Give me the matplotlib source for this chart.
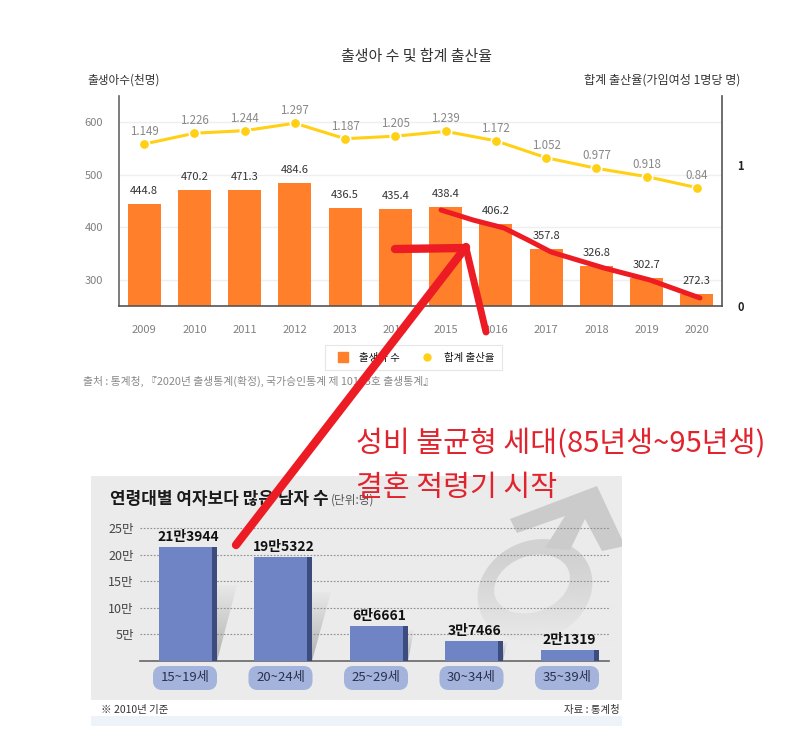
import numpy as np
import matplotlib
matplotlib.use("Agg")
import matplotlib.pyplot as plt
from matplotlib.patches import Polygon, Ellipse, FancyBboxPatch, Rectangle
from matplotlib.lines import Line2D

plt.rcParams['font.family'] = ['Noto Sans CJK KR', 'DejaVu Sans']

years = [2009, 2010, 2011, 2012, 2013, 2014, 2015, 2016, 2017, 2018, 2019, 2020]
births = [444.8, 470.2, 471.3, 484.6, 436.5, 435.4, 438.4, 406.2, 357.8, 326.8, 302.7, 272.3]
rates = [1.149, 1.226, 1.244, 1.297, 1.187, 1.205, 1.239, 1.172, 1.052, 0.977, 0.918, 0.84]
rate_labels = ['1.149', '1.226', '1.244', '1.297', '1.187', '1.205', '1.239', '1.172', '1.052', '0.977', '0.918', '0.84']
age_groups = ['15~19세', '20~24세', '25~29세', '30~34세', '35~39세']
excess_men = [213944, 195322, 66661, 37466, 21319]
excess_labels = ['21만3944', '19만5322', '6만6661', '3만7466', '2만1319']
man_ticks = [50000, 100000, 150000, 200000, 250000]
man_tick_labels = ['5만', '10만', '15만', '20만', '25만']

W, H = 787, 741
fig = plt.figure(figsize=(W / 100, H / 100), dpi=100, facecolor='white')


def axes_px(x0, y0, x1, y1, **kw):
    return fig.add_axes([x0 / W, 1 - y1 / H, (x1 - x0) / W, (y1 - y0) / H], **kw)


# Background layer in pixels
bg = axes_px(0, 0, W, H, zorder=0)
bg.set_xlim(0, W)
bg.set_ylim(H, 0)
bg.axis('off')
panel = '#ebebeb'
bg.add_patch(Rectangle((91, 476), 531, 224, fc=panel, ec='none'))
bg.add_patch(Rectangle((91, 716), 531, 10, fc='#eef3fa', ec='none'))

# Male symbol
clip = Rectangle((91, 476), 531, 224, transform=bg.transData)
sym = '#cbcbcb'
ring_o = bg.add_patch(Ellipse((535, 590), 118, 98, angle=-25, fc='#d2d2d2', ec='none', zorder=1))
ring_i = bg.add_patch(Ellipse((532, 584), 78, 56, angle=-20, fc=panel, ec='none', zorder=2))
head = bg.add_patch(Polygon([(510, 519), (597, 486), (625, 546), (602, 551), (585, 519), (570, 550),
                             (545, 548), (565, 516), (517, 533)], closed=True, fc=sym, ec='none', zorder=1))
head.set_clip_path(clip)
fade_rgba = np.zeros((64, 1, 4))
fade_rgba[..., :3] = 235 / 255
fade_rgba[..., 3] = np.linspace(0, 1, 64).reshape(-1, 1) ** 1.3
bg.imshow(fade_rgba, extent=(470, 622, 644, 556), aspect='auto', zorder=3, interpolation='bilinear')

# Gradient wedges behind the bars
wedges = [[(217, 661), (237, 585), (217, 585)], [(312, 661), (331, 592), (312, 592)],
          [(408, 661), (414, 630), (408, 630)], [(503, 661), (507, 642), (503, 642)]]
for w in wedges:
    xs = [p[0] for p in w]
    ys = [p[1] for p in w]
    g = np.zeros((64, 1, 4))
    g[..., :3] = 0.62
    g[..., 3] = np.linspace(0.05, 0.75, 64).reshape(-1, 1)
    im = bg.imshow(g, extent=(min(xs), max(xs), max(ys), min(ys)), aspect='auto', zorder=4,
                   interpolation='bilinear')
    im.set_clip_path(Polygon(w, closed=True, transform=bg.transData))
bg.set_xlim(0, W)
bg.set_ylim(H, 0)

# Pills
for i, lab in enumerate(age_groups):
    cx = 185 + 95.5 * i
    bg.add_patch(FancyBboxPatch((cx - 28, 670), 56, 16, boxstyle='round,pad=0,rounding_size=5',
                                mutation_aspect=1, fc='#a3b3dc', ec='#a3b3dc', lw=8 * 0.72, zorder=5))
    bg.text(cx, 678, lab, ha='center', va='center', fontsize=9.5, color='#2b3150', zorder=6)

bg.text(110, 499, '연령대별 여자보다 많은 남자 수', fontsize=12.2, fontweight='bold', color='#1a1a1a',
        va='center', ha='left', zorder=6)
bg.text(331, 500, '(단위:명)', fontsize=8.4, color='#555555', va='center', ha='left', zorder=6)
bg.text(101, 710, '※ 2010년 기준', fontsize=7.5, color='#333333', va='center', ha='left', zorder=6)
bg.text(620, 710, '자료 : 통계청', fontsize=7.5, color='#333333', va='center', ha='right', zorder=6)

# Top chart
ax = axes_px(119, 96, 722, 306, zorder=2)
ax.patch.set_alpha(0)
x = np.arange(len(years))
ax.set_xlim(-0.5, 11.5)
ax.set_ylim(250, 650)
for v in [300, 400, 500, 600]:
    ax.axhline(v, color='#efefef', lw=1, zorder=0)
ax.bar(x, births, width=0.66, color='#ff7f2a', zorder=2, label='출생아 수')
for xi, v in zip(x, births):
    ax.annotate(f'{v:.1f}', (xi, v), xytext=(0, 9.3), textcoords='offset points', ha='center', va='center',
                fontsize=8, color='#333333', zorder=5)
ax.set_xticks(x, [str(y) for y in years])
ax.set_yticks([300, 400, 500, 600])
ax.tick_params(axis='both', length=0, labelsize=8, labelcolor='#808080')
ax.tick_params(axis='x', pad=13.5)
ax.tick_params(axis='y', pad=11.5)
for lab in ax.get_xticklabels() + ax.get_yticklabels():
    lab.set_fontweight('medium')
for s in ['top', 'right']:
    ax.spines[s].set_visible(False)
ax.spines['left'].set_color('#666666')
ax.spines['left'].set_linewidth(1.2)
ax.spines['bottom'].set_color('#555555')
ax.spines['bottom'].set_linewidth(1.2)

ax2 = axes_px(119, 96, 722, 306, zorder=3)
ax2.patch.set_alpha(0)
ax2.set_xlim(-0.5, 11.5)
ax2.set_ylim(0, 1.49)
ax2.plot(x, rates, color='#ffd014', lw=2.2, marker='o', ms=7.5, mfc='#ffd014', mec='white', mew=1.2,
         label='합계 출산율', zorder=3)
for xi, v, t in zip(x, rates, rate_labels):
    ax2.annotate(t, (xi, v), xytext=(0, 9), textcoords='offset points', ha='center', va='center',
                 fontsize=8.3, color='#888888')
ax2.set_xticks([])
ax2.yaxis.tick_right()
ax2.set_yticks([0, 1], ['0', '1'])
ax2.tick_params(axis='y', length=0, labelsize=8, labelcolor='#222222', pad=11)
for lab in ax2.get_yticklabels():
    lab.set_fontweight('bold')
for s in ['top', 'left', 'bottom']:
    ax2.spines[s].set_visible(False)
ax2.spines['right'].set_color('#555555')
ax2.spines['right'].set_linewidth(1.2)

leg_handles = [Line2D([], [], ls='none', marker='s', ms=7.5, color='#ff7f2a'),
               Line2D([], [], ls='none', marker='o', ms=5, color='#ffd014')]
leg = ax2.legend(leg_handles, ['출생아 수', '합계 출산율'], ncol=2, loc='center',
                 bbox_to_anchor=(413.5 / W, 1 - 357.5 / H), bbox_transform=fig.transFigure,
                 fontsize=7.5, frameon=True, fancybox=False, edgecolor='#e6e6e6', framealpha=1,
                 handletextpad=0.6, columnspacing=1.6, borderpad=0.75, labelcolor='#111111')
leg.get_frame().set_linewidth(0.8)

# Bottom chart
ax3 = axes_px(140, 500, 609, 661, zorder=2)
ax3.patch.set_alpha(0)
xb = np.arange(len(age_groups))
ax3.set_xlim(-0.503, 4.413)
ax3.set_ylim(0, 161 / 26.6 * 50000)
ax3.set_yticks(man_ticks, man_tick_labels)
ax3.set_xticks([])
ax3.tick_params(axis='y', length=0, labelsize=9, labelcolor='#444444', pad=4.5)
ax3.yaxis.grid(True, ls=(0, (1.5, 1.5)), color='#8f8f8f', lw=0.8)
ax3.set_axisbelow(True)
for s in ['top', 'left', 'right']:
    ax3.spines[s].set_visible(False)
ax3.spines['bottom'].set_color('#666666')
ax3.spines['bottom'].set_linewidth(1.2)
ax3.bar(xb, excess_men, width=0.608, color='#6e84c4', zorder=3)
ax3.bar(xb + 0.304 - 0.0262, excess_men, width=0.0524, color='#3d4c7f', zorder=4)
for xi, v, t in zip(xb, excess_men, excess_labels):
    ax3.annotate(t, (xi, v), xytext=(0, 7), textcoords='offset points', ha='center', va='center',
                 fontsize=10, fontweight='bold', color='#111111', zorder=6)

# Top-level texts
fig.text(416.5 / W, 1 - 57 / H, '출생아 수 및 합계 출산율', fontsize=10.8, color='#333333', ha='center', va='center', fontweight='light')
fig.text(87 / W, 1 - 80 / H, '출생아수(천명)', fontsize=8.4, color='#333333', ha='left', va='center')
fig.text(740 / W, 1 - 80 / H, '합계 출산율(가임여성 1명당 명)', fontsize=8.7, color='#333333', ha='right', va='center')
fig.text(83 / W, 1 - 381 / H, '출처 : 통계청, 『2020년 출생통계(확정), 국가승인통계 제 10103호 출생통계』', fontsize=7.8,
         color='#888888', ha='left', va='center')

# Hand-drawn overlay
ov = axes_px(0, 0, W, H, zorder=10)
ov.patch.set_alpha(0)
ov.set_xlim(0, W)
ov.set_ylim(H, 0)
ov.axis('off')
red = '#ed1c24'
trend = np.array([(441, 210), (473, 220), (504, 228), (528, 240), (551, 252), (604, 268), (650, 280), (700, 298)])
ov.plot(trend[:, 0], trend[:, 1], color=red, lw=3.6, solid_capstyle='round', solid_joinstyle='round')
ov.plot([236, 466], [545, 247], color=red, lw=6, solid_capstyle='round')
ov.plot([395, 466], [249, 248], color=red, lw=6, solid_capstyle='round')
ov.plot([466, 486], [248, 332], color=red, lw=5, solid_capstyle='round')
ov.text(356, 444, '성비 불균형 세대(85년생~95년생)', fontsize=21, color='#e1232e', ha='left', va='center')
ov.text(356, 488, '결혼 적령기 시작', fontsize=21, color='#e1232e', ha='left', va='center')

fig.savefig('out.png', dpi=100)
